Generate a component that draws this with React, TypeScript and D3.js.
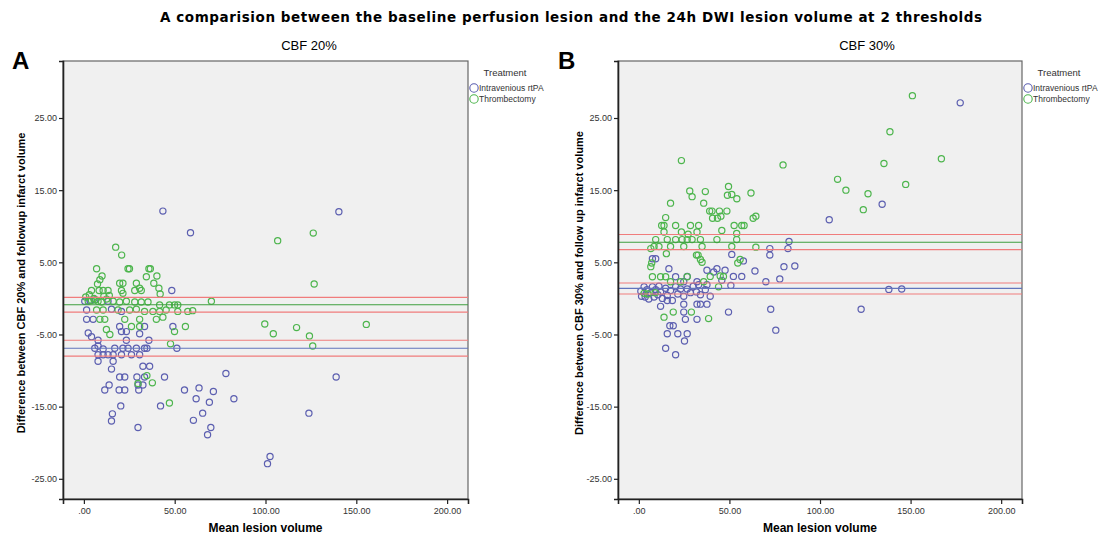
import React, { useEffect, useRef } from 'react';
import * as d3 from 'd3';

type Pt = [number, number]; // [mean lesion volume, difference]

// CBF 20% - Intravenous rtPA
const ivtA: Pt[] = [
  [43.5, 12.1], [58.7, 9.1], [140.4, 12.0], [48.4, 1.1],
  [0.5, -0.4], [3.3, -0.3], [6.0, -0.2], [13.3, -0.4],
  [1.5, -1.6], [15.2, -1.5], [20.7, -1.8], [1.5, -2.9], [5.1, -2.9],
  [19.7, -3.9], [33.4, -3.9], [49.0, -3.9], [20.7, -4.6], [23.4, -4.6],
  [2.4, -4.8], [4.2, -5.3], [30.7, -4.9], [7.8, -5.8], [23.4, -5.8], [35.8, -5.8],
  [6.0, -6.9], [7.8, -6.6], [10.6, -7.0], [17.0, -6.9], [21.5, -6.9], [24.3, -6.9],
  [28.9, -6.9], [33.4, -6.9], [34.7, -6.9], [51.2, -6.9],
  [7.8, -7.8], [10.6, -7.8], [13.3, -7.8], [16.1, -7.8], [20.7, -7.8], [26.2, -7.8], [30.7, -7.8],
  [7.8, -8.7], [16.1, -8.7], [32.5, -9.4], [36.2, -9.4], [15.2, -9.8],
  [19.7, -10.9], [22.5, -10.9], [29.2, -10.9], [33.4, -10.9], [44.4, -10.9], [78.2, -10.4],
  [13.9, -12.0], [29.8, -12.0], [32.5, -12.0],
  [11.5, -12.7], [19.4, -12.7], [22.5, -12.7], [30.2, -12.7], [55.4, -12.7], [63.4, -12.4], [71.3, -12.9],
  [61.8, -13.9], [69.1, -14.4], [82.6, -13.9], [20.3, -14.9], [42.2, -14.9],
  [15.7, -16.0], [15.2, -17.0], [65.4, -15.9], [60.3, -16.9],
  [29.8, -17.9], [69.9, -17.9], [68.1, -18.9],
  [138.9, -10.9], [123.9, -15.9], [102.5, -21.9], [101.1, -22.9],
];

// CBF 20% - Thrombectomy
const mtA: Pt[] = [
  [17.5, 7.1], [20.8, 6.0], [7.0, 4.1], [24.3, 4.1], [25.1, 4.1], [35.8, 4.1], [36.6, 4.1],
  [10.0, 3.1], [8.8, 2.6], [7.5, 2.0], [34.4, 3.0], [40.2, 3.1],
  [19.7, 2.1], [21.5, 2.1], [28.9, 2.1], [38.5, 2.1],
  [4.2, 1.1], [8.4, 1.1], [10.6, 1.1], [13.3, 1.1], [20.7, 1.1], [28.0, 1.1], [30.7, 1.4],
  [31.6, 1.1], [41.3, 1.4], [42.0, 0.6], [21.5, 0.7],
  [1.0, 0.2], [3.0, 0.5], [5.5, 0.0], [6.5, -0.2], [11.0, 0.3], [12.5, -0.1], [14.0, 0.4],
  [2.4, -0.4], [4.2, -0.3], [7.8, -0.4], [9.7, -0.5], [16.1, -0.4], [19.7, -0.5], [23.4, -0.4],
  [28.0, -0.5], [31.6, -0.5], [35.3, -0.5], [41.7, -0.9], [47.1, -0.9], [49.9, -0.9], [51.7, -0.9], [70.2, -0.4],
  [7.0, -1.6], [10.6, -1.6], [18.8, -1.6], [25.2, -1.6], [28.9, -1.5], [33.4, -1.8], [38.0, -1.8],
  [41.7, -1.8], [45.3, -1.6], [51.7, -1.8], [57.2, -1.8], [59.9, -1.7],
  [8.8, -2.9], [11.5, -2.9], [22.5, -2.9], [30.7, -2.9], [39.9, -2.9], [43.5, -2.6],
  [12.4, -4.3], [14.3, -5.0], [26.2, -3.9], [30.7, -3.9], [49.9, -4.6], [55.9, -3.9],
  [47.7, -6.3], [34.7, -10.7], [37.7, -11.7], [29.8, -11.8], [47.1, -14.5],
  [106.7, 8.0], [126.3, 9.05], [126.8, 2.0], [99.6, -3.55], [104.3, -4.9], [117.1, -4.05],
  [124.2, -5.2], [126.0, -6.6], [155.5, -3.6],
];

// CBF 30% - Intravenous rtPA
const ivtB: Pt[] = [
  [177.4, 27.1], [134.3, 13.05], [105.1, 10.9], [82.9, 7.9], [72.3, 6.9], [82.3, 6.9], [72.3, 6.0],
  [80.1, 4.4], [86.1, 4.5], [77.8, 2.7], [138.0, 1.25], [145.1, 1.3], [72.8, -1.5], [122.7, -1.5], [75.6, -4.4],
  [51.3, 6.1], [57.7, 5.2], [9.3, 5.5], [7.5, 5.5],
  [16.6, 4.1], [37.6, 3.9], [43.1, 4.1], [41.3, 3.65], [47.6, 3.9], [52.2, 3.05], [56.8, 3.05], [64.1, 3.8], [70.1, 2.3],
  [20.3, 3.0], [26.7, 3.05], [24.8, 2.3], [32.1, 2.3], [33.0, 1.9], [37.6, 1.9], [50.8, 1.8], [45.8, 2.5],
  [1.1, 1.0], [1.5, 0.3], [2.9, 1.6], [3.5, 0.2], [4.5, 1.2], [5.5, -0.1], [6.6, 0.8], [7.5, 1.6],
  [8.4, 0.2], [9.3, 1.2], [10.5, 0.5], [11.1, 1.7], [12.0, 0.9], [13.0, 0.0], [14.8, 1.4], [15.7, 0.4],
  [17.5, 1.1], [18.5, -0.3], [20.3, 1.6], [21.5, 0.6], [23.0, 1.3], [24.8, 0.3], [26.7, 1.3], [28.5, 0.8],
  [30.0, 1.7], [31.8, 0.9], [34.0, 0.5], [36.7, 1.2], [39.4, 0.3],
  [12.0, -1.1], [15.7, -0.3], [24.8, -0.8], [24.8, -1.9], [32.1, -0.8], [34.0, -0.8], [37.6, -0.8],
  [49.5, -1.9], [25.7, -2.9], [32.1, -2.9], [17.1, -3.8], [19.0, -3.8], [15.7, -4.9], [21.5, -4.9],
  [26.7, -4.9], [25.2, -5.9], [14.8, -6.9], [20.3, -7.8],
];

// CBF 30% - Thrombectomy
const mtB: Pt[] = [
  [23.5, 19.1], [79.6, 18.5], [49.5, 15.5], [28.1, 14.9], [36.7, 14.8], [48.9, 14.3], [51.3, 14.4],
  [54.1, 13.8], [61.9, 14.6], [29.4, 14.1], [17.5, 13.2], [35.8, 13.2], [39.1, 12.1], [40.4, 12.1],
  [44.5, 12.1], [48.6, 12.1], [40.7, 11.1], [43.4, 11.1], [45.3, 11.4], [63.1, 11.1], [64.6, 11.4], [14.8, 11.2],
  [12.6, 10.1], [13.9, 10.1], [20.3, 10.1], [28.5, 10.1], [33.0, 10.1], [52.6, 10.1], [56.8, 10.1], [58.1, 10.1],
  [13.9, 9.2], [23.5, 9.2], [27.2, 8.9], [32.1, 9.2], [45.8, 9.4], [54.0, 9.0],
  [9.3, 8.15], [8.4, 7.2], [11.1, 7.2], [6.6, 6.9], [15.7, 8.15], [17.5, 7.2], [20.3, 8.15], [24.8, 7.2],
  [23.9, 8.15], [26.7, 8.15], [29.4, 8.15], [34.0, 8.15], [34.9, 7.2], [43.1, 8.15], [51.3, 7.2], [54.0, 8.15], [64.6, 7.1],
  [15.2, 6.2], [31.8, 6.0], [32.7, 6.0], [34.0, 5.4], [34.9, 5.0],
  [7.1, 4.9], [6.6, 4.4], [54.6, 4.9], [55.9, 5.4],
  [7.5, 3.0], [12.0, 3.0], [14.8, 3.0], [39.4, 3.05], [44.9, 3.1], [46.7, 3.05], [26.7, 3.0],
  [17.5, 2.3], [23.0, 2.3], [35.8, 2.3], [44.0, 1.6], [2.9, 0.7], [5.0, 0.6], [9.0, 0.8],
  [19.0, -1.9], [13.9, -2.6], [29.0, -1.9], [38.5, -2.8],
  [151.0, 28.1], [138.6, 23.1], [135.3, 18.7], [167.0, 19.35], [109.7, 16.5], [114.3, 15.0],
  [126.5, 14.5], [147.3, 15.8], [123.9, 12.3],
];

// mean difference with upper / lower limits: [upper, mean, lower]
const ivtLinesA = [-5.8, -6.9, -8.0];
const mtLinesA = [0.14, -0.88, -1.9];
const ivtLinesB = [2.13, 1.39, 0.6];
const mtLinesB = [8.85, 7.78, 6.76];

const xTicks = [0, 50, 100, 150, 200];
const yTicks = [-25, -15, -5, 5, 15, 25];
const legendLabels = ['Intravenious rtPA', 'Thrombectomy'];

const BLUE = '#5c5fb0';
const GREEN = '#4db54d';
const RED = '#f07c7c';
const FONT = "'Liberation Sans', Arial, sans-serif";

const fmt = (v: number) => (v === 0 ? '.00' : v.toFixed(2));

const App: React.FC = () => {
  const svgRef = useRef<SVGSVGElement>(null);

  useEffect(() => {
    const svg = d3.select(svgRef.current);
    svg.selectAll('*').remove();

    svg.append('text')
      .attr('x', 571).attr('y', 22)
      .attr('text-anchor', 'middle')
      .attr('textLength', 822)
      .style('font-family', "'DejaVu Sans', Verdana, sans-serif")
      .style('font-weight', 'bold')
      .style('font-size', '13.5px')
      .text('A comparision between the baseline perfusion lesion and the 24h DWI lesion volume at 2 thresholds');

    const panels = [
      { left: 63, right: 468, letter: 'A', letterX: 12, sub: 'CBF 20%', subX: 309, yTitleX: 25,
        yTitle: 'Difference between CBF 20% and followup infarct volume',
        ivt: ivtA, mt: mtA, ivtLines: ivtLinesA, mtLines: mtLinesA },
      { left: 618, right: 1022, letter: 'B', letterX: 558, sub: 'CBF 30%', subX: 867, yTitleX: 583,
        yTitle: 'Difference between CBF 30% and follow up infarct volume',
        ivt: ivtB, mt: mtB, ivtLines: ivtLinesB, mtLines: mtLinesB },
    ];

    const top = 61, bottom = 499;

    panels.forEach(p => {
      const x = d3.scaleLinear().domain([-11.5, 211.5]).range([p.left, p.right]);
      const y = d3.scaleLinear().domain([-27.8, 32.9]).range([bottom, top]);
      const g = svg.append('g');

      g.append('rect')
        .attr('x', p.left).attr('y', top)
        .attr('width', p.right - p.left).attr('height', bottom - top)
        .attr('fill', '#f0f0f0')
        .attr('stroke', '#666').attr('stroke-width', 1.2);

      // points
      const series = [{ data: p.ivt, color: BLUE }, { data: p.mt, color: GREEN }];
      series.forEach(s => {
        g.append('g').selectAll('circle')
          .data(s.data)
          .enter().append('circle')
          .attr('cx', d => x(d[0]))
          .attr('cy', d => y(d[1]))
          .attr('r', 3.1)
          .attr('fill', 'none')
          .attr('stroke', s.color)
          .attr('stroke-width', 1.2);
      });

      // mean and limit lines
      const refLines = [
        { v: p.ivtLines[0], c: RED }, { v: p.ivtLines[1], c: '#6274bd' }, { v: p.ivtLines[2], c: RED },
        { v: p.mtLines[0], c: RED }, { v: p.mtLines[1], c: '#3f9f3f' }, { v: p.mtLines[2], c: RED },
      ];
      g.append('g').selectAll('line')
        .data(refLines)
        .enter().append('line')
        .attr('x1', p.left).attr('x2', p.right)
        .attr('y1', d => y(d.v)).attr('y2', d => y(d.v))
        .attr('stroke', d => d.c)
        .attr('stroke-width', 1.1);

      // axes
      const yAxis = g.append('g')
        .attr('transform', `translate(${p.left},0)`)
        .call(d3.axisLeft(y).tickValues(yTicks).tickSize(4).tickPadding(2).tickFormat(d => fmt(+d)));
      const xAxis = g.append('g')
        .attr('transform', `translate(0,${bottom})`)
        .call(d3.axisBottom(x).tickValues(xTicks).tickSize(5).tickPadding(4).tickFormat(d => fmt(+d)));
      [yAxis, xAxis].forEach(a => {
        a.select('.domain').attr('stroke', '#222').attr('stroke-width', 1.6);
        a.selectAll('.tick line').attr('stroke', '#222').attr('stroke-width', 1.2);
        a.selectAll('.tick text')
          .attr('fill', '#333')
          .style('font-family', FONT)
          .style('font-size', '9px');
      });

      // titles
      g.append('text')
        .attr('x', p.letterX).attr('y', 69)
        .style('font-family', FONT).style('font-weight', 'bold').style('font-size', '24px')
        .text(p.letter);
      g.append('text')
        .attr('x', p.subX).attr('y', 50)
        .attr('text-anchor', 'middle')
        .style('font-family', FONT).style('font-size', '13px')
        .text(p.sub);
      g.append('text')
        .attr('transform', `translate(${p.yTitleX},${(top + bottom) / 2 + 3}) rotate(-90)`)
        .attr('text-anchor', 'middle')
        .style('font-family', FONT).style('font-weight', 'bold').style('font-size', '11px')
        .text(p.yTitle);
      g.append('text')
        .attr('x', (x(0) + x(200)) / 2).attr('y', 532)
        .attr('text-anchor', 'middle')
        .style('font-family', FONT).style('font-weight', 'bold').style('font-size', '12px')
        .text('Mean lesion volume');

      // legend
      const lx = p.right + 6;
      g.append('text')
        .attr('x', lx + 31).attr('y', 76)
        .attr('text-anchor', 'middle')
        .style('font-family', FONT).style('font-size', '9.5px').attr('fill', '#333')
        .text('Treatment');
      legendLabels.forEach((lab, i) => {
        g.append('circle')
          .attr('cx', lx).attr('cy', 88 + i * 11)
          .attr('r', 4.2)
          .attr('fill', 'none')
          .attr('stroke', i === 0 ? BLUE : GREEN)
          .attr('stroke-width', 1.1);
        g.append('text')
          .attr('x', lx + 5).attr('y', 91 + i * 11)
          .style('font-family', FONT).style('font-size', '8.5px').attr('fill', '#333')
          .text(lab);
      });
    });
  }, []);

  return (
    <svg ref={svgRef} width={1104} height={537}
      style={{ position: 'absolute', left: 0, top: 0, backgroundColor: 'white' }} />
  );
};

export default App;
